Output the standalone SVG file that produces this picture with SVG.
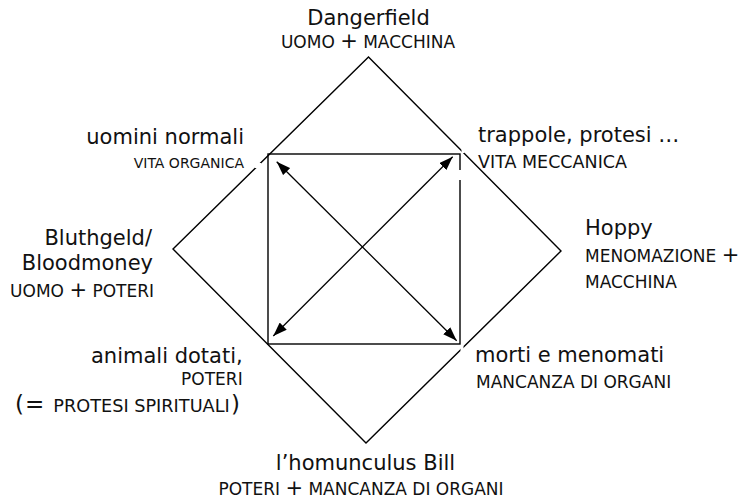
<svg xmlns="http://www.w3.org/2000/svg" width="742" height="500" viewBox="0 0 742 500">
<style>
.t{font-family:"DejaVu Sans","Verdana",sans-serif;font-size:21px;fill:#111}
.s{font-size:17px}
.p{font-size:21px}
.shape{fill:none;stroke:#000;stroke-width:1.4}
.arrow{stroke:#000;stroke-width:1.3;fill:none}
.gap{fill:#fff;stroke:none}
</style>
<defs>
<marker id="ah" viewBox="0 0 14 10" refX="14" refY="5" markerWidth="14" markerHeight="10" markerUnits="userSpaceOnUse" orient="auto-start-reverse">
<path d="M0,0 L14,5 L0,10 z" fill="#000"/>
</marker>
</defs>
<rect width="742" height="500" fill="#fff"/>
<g id="frame">
<polygon class="shape" points="173,249 368.5,57 561,251 366,443"/>
<rect class="shape" x="268" y="154" width="192" height="190"/>
<rect class="gap" x="255" y="163" width="6" height="5"/>
<rect class="gap" x="458.5" y="170" width="3" height="10"/>
<rect class="gap" x="461.5" y="147" width="3" height="6"/>
<rect class="gap" x="460.5" y="346" width="3" height="5"/>
</g>
<g id="connectors">
<line class="arrow" x1="276.7" y1="161.7" x2="456.7" y2="340.7" marker-start="url(#ah)" marker-end="url(#ah)"/>
<line class="arrow" x1="273.3" y1="336" x2="452.7" y2="156.7" marker-start="url(#ah)" marker-end="url(#ah)"/>
</g>
<g id="n-dangerfield">
<text class="t" x="368.5" y="25" text-anchor="middle">Dangerfield</text>
<text class="t s" x="368" y="48.3" text-anchor="middle">UOMO <tspan class="p">+</tspan> MACCHINA</text>
</g>
<g id="n-uomini">
<text class="t" x="244" y="144" text-anchor="end">uomini normali</text>
<text class="t s" x="244" y="167.7" text-anchor="end" style="font-size:14px">VITA ORGANICA</text>
</g>
<g id="n-trappole">
<text class="t" x="478" y="141.7">trappole, protesi …</text>
<text class="t s" x="478" y="168" style="font-size:17.5px">VITA MECCANICA</text>
</g>
<g id="n-bluthgeld">
<text class="t" x="152" y="245" text-anchor="end">Bluthgeld/</text>
<text class="t" x="153" y="270" text-anchor="end">Bloodmoney</text>
<text class="t s" x="154" y="296.7" text-anchor="end">UOMO <tspan class="p">+</tspan> POTERI</text>
</g>
<g id="n-hoppy">
<text class="t" x="585" y="235">Hoppy</text>
<text class="t s" x="585" y="261.7">MENOMAZIONE <tspan class="p">+</tspan></text>
<text class="t s" x="585" y="288.3">MACCHINA</text>
</g>
<g id="n-animali">
<text class="t" x="242.7" y="363" text-anchor="end">animali dotati,</text>
<text class="t s" x="242.7" y="385" text-anchor="end">POTERI</text>
<text class="t s" y="411.7"><tspan x="15" style="font-size:23px">(</tspan><tspan x="25" style="font-size:23px">=</tspan><tspan x="53.3" style="font-size:17.7px">PROTESI SPIRITUALI</tspan><tspan x="231" style="font-size:23px">)</tspan></text>
</g>
<g id="n-morti">
<text class="t" x="475" y="362">morti e menomati</text>
<text class="t s" x="476" y="388">MANCANZA DI ORGANI</text>
</g>
<g id="n-homunculus">
<text class="t" x="365.5" y="470" text-anchor="middle">l’homunculus Bill</text>
<text class="t s" x="361" y="495" text-anchor="middle">POTERI <tspan class="p">+</tspan> MANCANZA DI ORGANI</text>
</g>
</svg>
